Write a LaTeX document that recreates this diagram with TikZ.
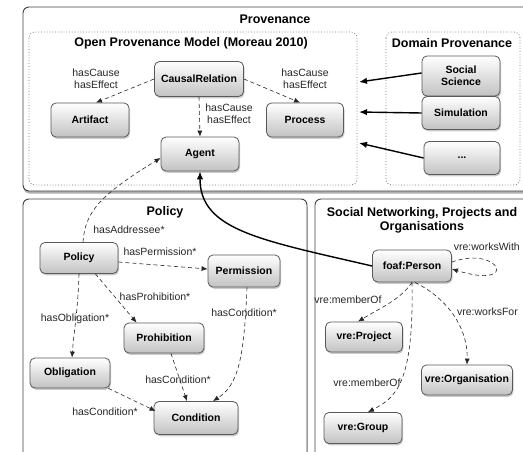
\documentclass[tikz,border=0pt]{standalone}
\usepackage{fontspec}
\setmainfont{Liberation Sans}
\usetikzlibrary{arrows.meta,shadows}
\tikzset{
 box/.style={rounded corners=6pt, draw=black!75, line width=0.9pt, fill=white,
   drop shadow={shadow xshift=0.5pt, shadow yshift=-2.5pt, opacity=0.45, fill=black!70}},
 area/.style={rounded corners=6pt, draw=black!55, dotted, line width=0.8pt},
 cls/.style={rounded corners=5pt, draw=black!65, line width=0.8pt, top color=white, bottom color=black!24,
   font=\bfseries\fontsize{10.5}{12}\selectfont, inner sep=0pt, align=center,
   drop shadow={shadow xshift=1pt, shadow yshift=-1.8pt, opacity=0.4}},
 lbl/.style={font=\fontsize{10.5}{12}\selectfont, text=black!85, align=center, inner sep=1pt},
 ttl/.style={font=\bfseries\fontsize{12.5}{14}\selectfont, align=center, inner sep=0pt},
 rel/.style={dash pattern=on 4pt off 3pt, line width=0.6pt, draw=black!85, -{Latex[length=6pt,width=5pt]}},
 link/.style={line width=1.4pt, -{Latex[length=8pt,width=6.5pt]}},
}
\begin{document}
\begin{tikzpicture}[x=1pt,y=-1pt]
\useasboundingbox (0,0) rectangle (523,452);
\clip (0,0) rectangle (523,452);
% outer boxes
\draw[box] (23,7) rectangle (545,191);
\draw[box] (23,199) rectangle (307,470);
\draw[box] (315,199) rectangle (545,470);
% dotted areas
\draw[area] (29,32) rectangle (357,185);
\draw[area] (386,32) rectangle (520,185);
% titles
\node[ttl] (tprov) at (275,19) {Provenance};
\node[ttl] (topm) at (191,43) {Open Provenance Model (Moreau 2010)};
\node[ttl] (tdom) at (452,43) {Domain Provenance};
\node[ttl] (tpol) at (165,212) {Policy};
\node[ttl] (tsoc) at (422,220) {Social Networking, Projects and\\Organisations};
% OPM nodes
\node[cls, minimum width=89pt, minimum height=35pt] (cr) at (199,79) {CausalRelation};
\node[cls, minimum width=78pt, minimum height=34pt] (art) at (90,120) {Artifact};
\node[cls, minimum width=77pt, minimum height=34pt] (proc) at (305,120) {Process};
\node[cls, minimum width=78pt, minimum height=34pt] (agent) at (200,154) {Agent};
% domain nodes
\node[cls, minimum width=78pt, minimum height=40pt] (soc) at (461,76) {Social\\Science};
\node[cls, minimum width=78pt, minimum height=33pt] (sim) at (461,113) {Simulation};
\node[cls, minimum width=76pt, minimum height=33pt] (dots) at (462,158) {...};
% policy nodes
\node[cls, minimum width=78pt, minimum height=31pt] (pol) at (79,258) {Policy};
\node[cls, minimum width=72pt, minimum height=32pt] (perm) at (244,271) {Permission};
\node[cls, minimum width=80pt, minimum height=30pt] (proh) at (164,338) {Prohibition};
\node[cls, minimum width=80pt, minimum height=30pt] (obl) at (70,373) {Obligation};
\node[cls, minimum width=84pt, minimum height=33pt] (cond) at (196,418) {Condition};
% social nodes
\node[cls, minimum width=79pt, minimum height=32pt] (foaf) at (412,266) {foaf:Person};
\node[cls, minimum width=77pt, minimum height=30pt] (proj) at (364,337) {vre:Project};
\node[cls, minimum width=91pt, minimum height=30pt] (org) at (467,380) {vre:Organisation};
\node[cls, minimum width=78pt, minimum height=31pt] (grp) at (363,428) {vre:Group};
% OPM relations
\draw[rel] (cr.west) -- ([xshift=6pt]art.north);
\draw[rel] (cr.east) -- ([xshift=-5pt]proc.north);
\draw[rel] (cr.south) -- (agent.north);
\node[lbl] (l1) at (96,79) {hasCause\\hasEffect};
\node[lbl] (l2) at (305,79) {hasCause\\hasEffect};
\node[lbl] (l3) at (229,114) {hasCause\\hasEffect};
% domain links
\coordinate (e1) at (359,82);
\coordinate (e2) at (359,112);
\coordinate (e3) at (359,143);
\draw[link] ([yshift=3pt]soc.west) -- (e1);
\draw[link] (sim.west) -- (e2);
\draw[link] (dots.west) -- (e3);
% policy relations
\draw[rel] ([xshift=4pt]pol.north) .. controls (85,212) and (100,195) .. ([yshift=-4pt]agent.west);
\draw[link] (foaf.west) .. controls (260,240) and (200,230) .. (agent.south);
\draw[rel] ([yshift=-4pt]pol.east) -- ([yshift=2pt]perm.west);
\draw[rel] ([xshift=-23pt]pol.south east) -- ([xshift=13pt]proh.north west);
\draw[rel] (pol.south) .. controls (78,310) and (74,330) .. ([xshift=2pt]obl.north);
\draw[rel] ([xshift=3pt]perm.south) .. controls (244,360) and (238,385) .. ([xshift=17pt]cond.north);
\draw[rel] ([xshift=7pt]proh.south) -- ([xshift=-9pt]cond.north);
\draw[rel] ([xshift=-2pt]obl.south east) -- ([yshift=7pt,xshift=2pt]cond.west);
\node[lbl] (la) at (129,230) {hasAddressee*};
\node[lbl] (lb) at (160,252) {hasPermission*};
\node[lbl] (lc) at (155,297) {hasProhibition*};
\node[lbl] (ld) at (75,319) {hasObligation*};
\node[lbl] (le) at (244,313) {hasCondition*};
\node[lbl] (lf) at (178,380) {hasCondition*};
\node[lbl] (lg) at (105,412) {hasCondition*};
% social relations
\draw[rel] ([yshift=4pt]foaf.east) .. controls (500,245) and (520,290) .. ([yshift=-3pt]foaf.east);
\draw[rel] (foaf.south) .. controls (400,300) and (380,308) .. ([xshift=-6pt]proj.north);
\draw[rel] (foaf.south) .. controls (414,385) and (395,398) .. ([xshift=5pt]grp.north);
\draw[rel] ([xshift=3pt]foaf.south) .. controls (450,300) and (468,330) .. (org.north);
\node[lbl, anchor=east] (lh) at (521,247) {vre:worksWith};
\node[lbl] (li) at (348,300) {vre:memberOf};
\node[lbl, anchor=east] (lj) at (519,312) {vre:worksFor};
\node[lbl] (lk) at (367,383) {vre:memberOf};
\end{tikzpicture}
\end{document}
